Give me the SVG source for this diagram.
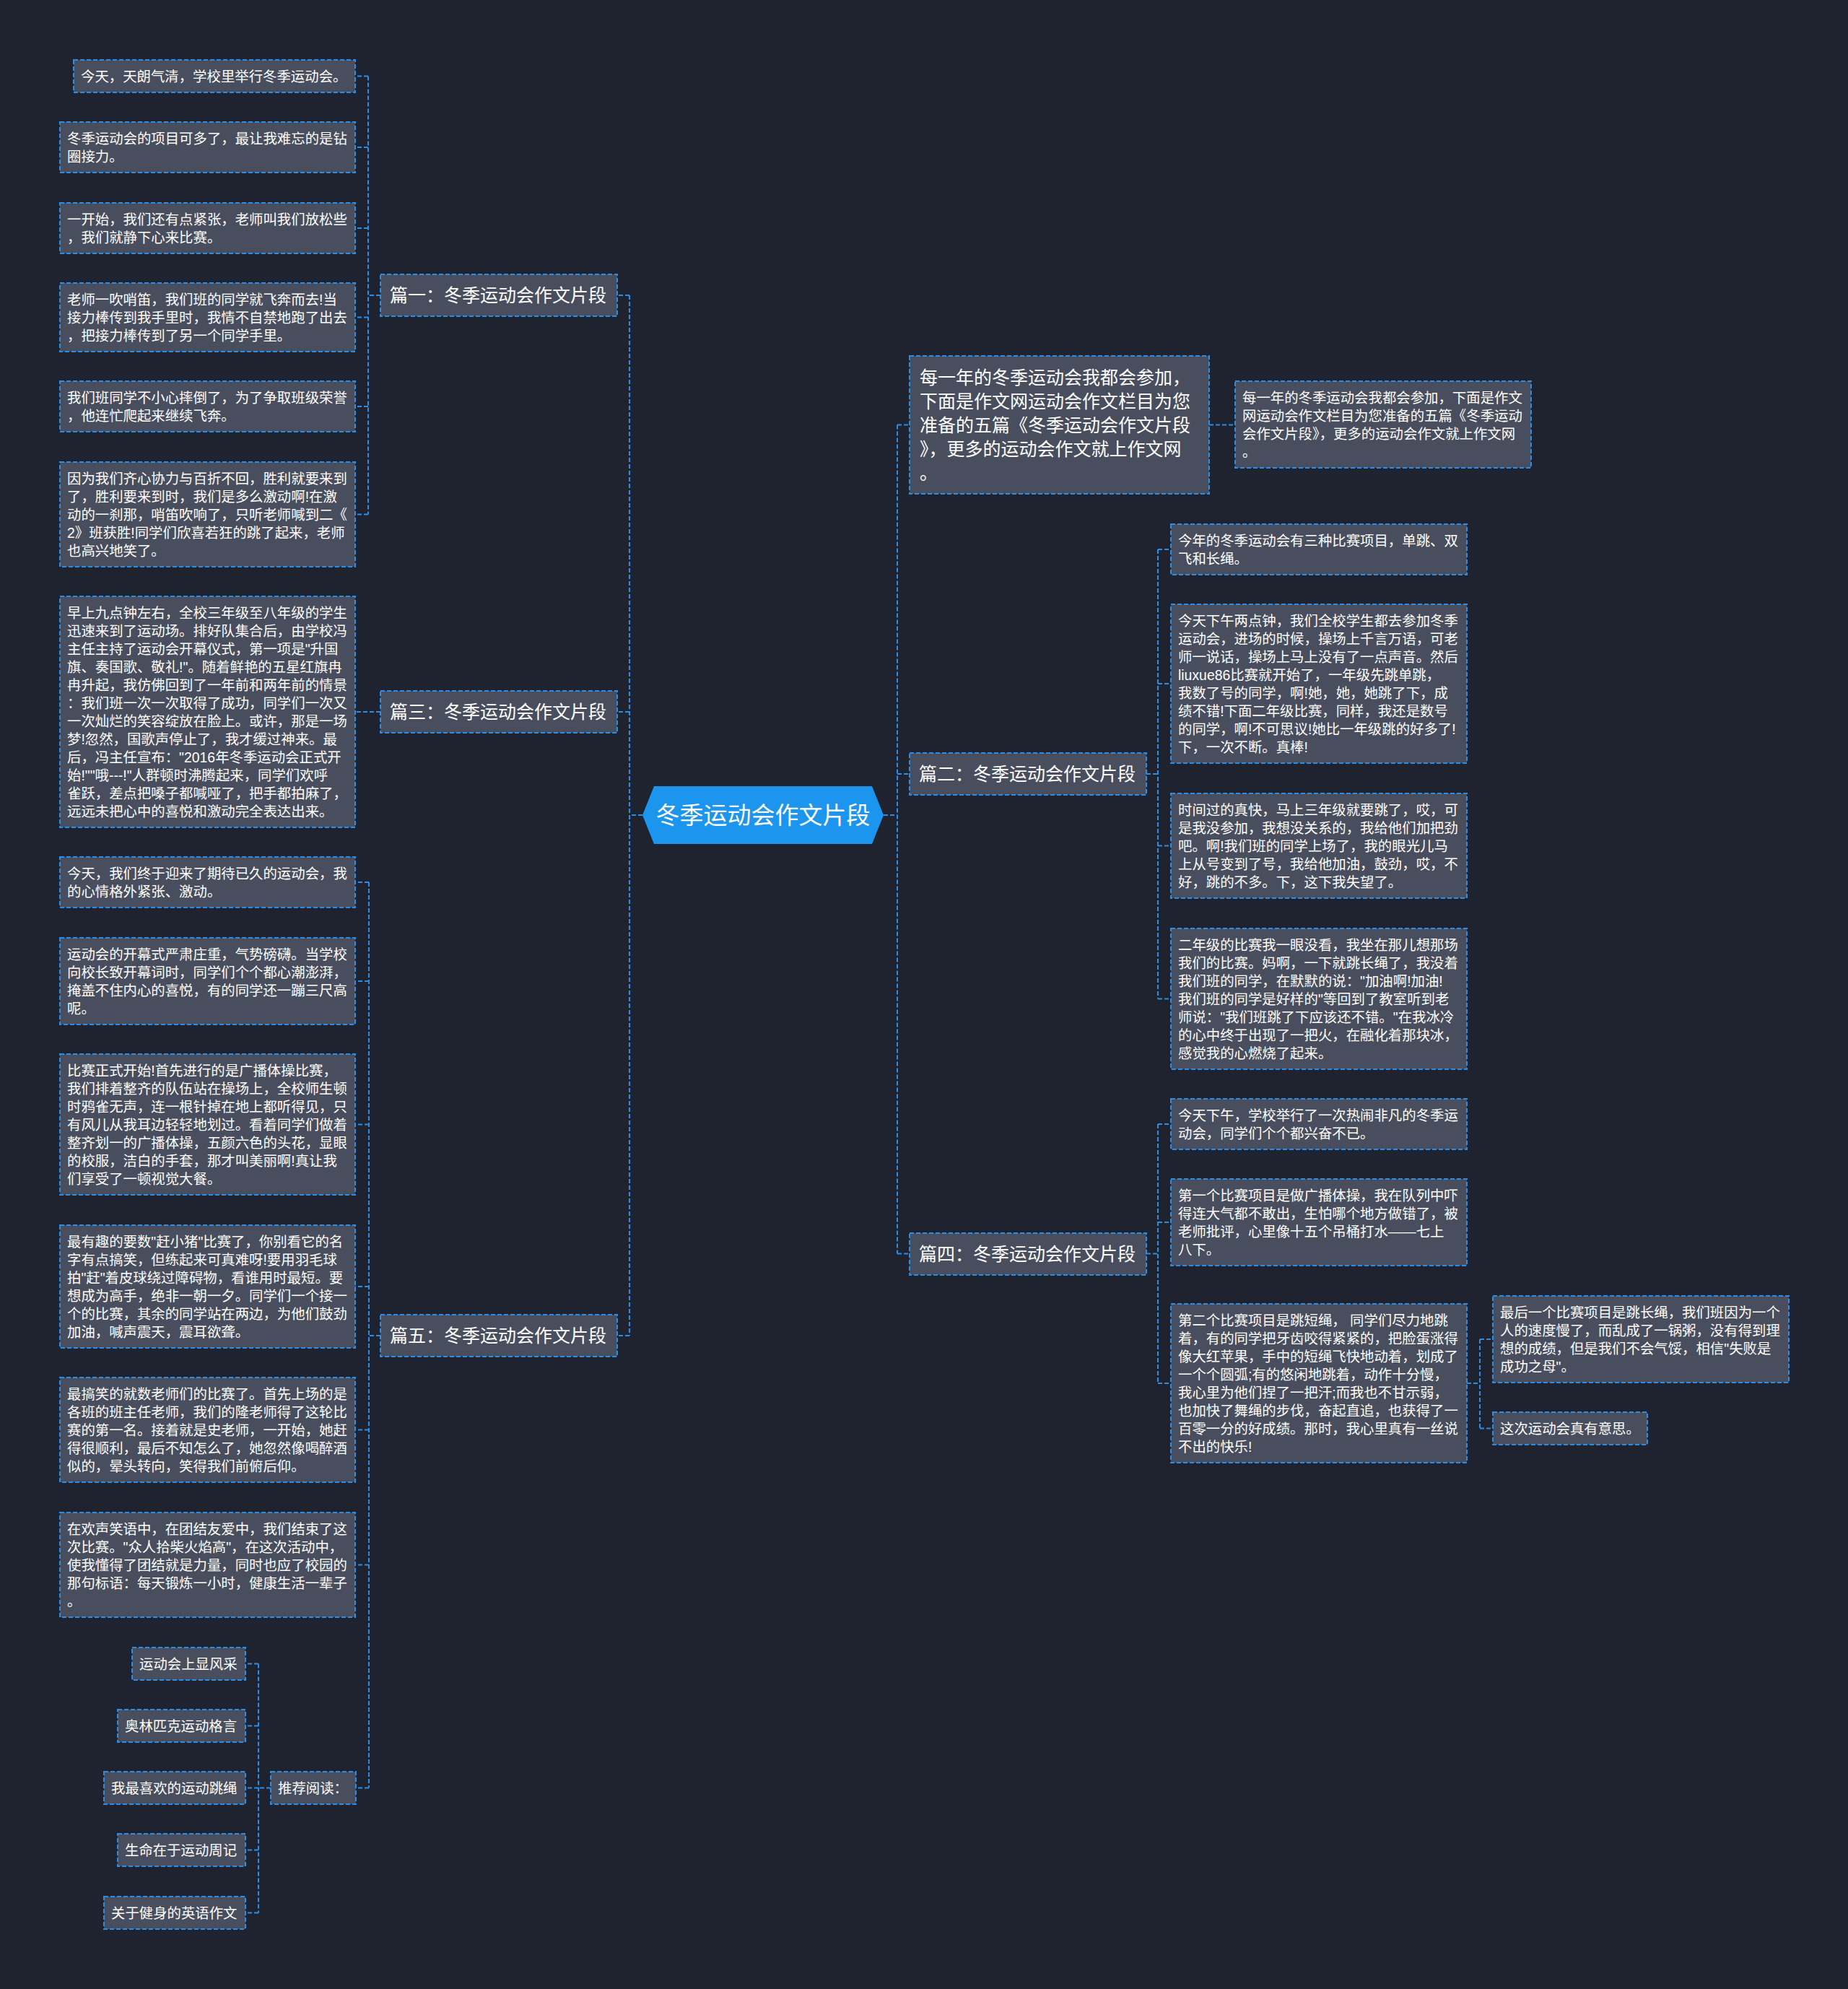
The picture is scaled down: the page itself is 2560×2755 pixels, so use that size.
<svg xmlns="http://www.w3.org/2000/svg" width="2560" height="2755" viewBox="0 0 2560 2755">
<style>
.n{fill:#484e5e;stroke:#2a8ee6;stroke-width:2;stroke-dasharray:6 3}
.t{fill:#ffffff;font-family:"Liberation Sans","Noto Sans CJK SC",sans-serif;font-size:19.4px;dominant-baseline:central}
.b{font-size:25px}
.c{fill:none;stroke:#2a8ee6;stroke-width:2;stroke-dasharray:6 3}
</style>
<rect width="2560" height="2755" fill="#1f2330"/>
<g id="connectors" class="c">
<path d="M890 1129H872M872 409V1850M872 409H855M872 986H855M872 1850H855"/>
<path d="M527 409H510M510 105.5V712.5M510 105.5H492M510 204H492M510 316H492M510 439.5H492M510 563H492M510 712.5H492"/>
<path d="M527 986H492"/>
<path d="M527 1850H511M511 1222V2476.5M511 1222H492M511 1359H492M511 1557.5H492M511 1782H492M511 1980.5H492M511 2167.5H492M511 2476.5H493"/>
<path d="M375 2476.5H358M358 2304.5V2649.5M358 2304.5H340M358 2390.5H340M358 2476.5H340M358 2562.5H340M358 2649.5H340"/>
<path d="M1224 1129H1243M1243 588.5V1736.5M1243 588.5H1260M1243 1072H1260M1243 1736.5H1260"/>
<path d="M1675 588.5H1711"/>
<path d="M1588 1072H1604M1604 761V1383.5M1604 761H1622M1604 947H1622M1604 1171.5H1622M1604 1383.5H1622"/>
<path d="M1588 1736.5H1604M1604 1557V1916M1604 1557H1622M1604 1693H1622M1604 1916H1622"/>
<path d="M2032 1916H2050M2050 1855V1978.5M2050 1855H2068M2050 1978.5H2068"/>
</g>
<g id="center">
<polygon points="890,1129 906,1089 1208,1089 1224,1129 1208,1169 906,1169" fill="#1b95ee"/>
<text class="t" x="1057" y="1129" text-anchor="middle" style="font-size:33px">冬季运动会作文片段</text>
</g>
<g id="p1"><rect class="n" x="527" y="380" width="328" height="58"/><text class="t b" x="540" y="409">篇一：冬季运动会作文片段</text></g>
<g id="p3"><rect class="n" x="527" y="957" width="328" height="58"/><text class="t b" x="540" y="986">篇三：冬季运动会作文片段</text></g>
<g id="p5"><rect class="n" x="527" y="1821" width="328" height="58"/><text class="t b" x="540" y="1850">篇五：冬季运动会作文片段</text></g>
<g id="p2"><rect class="n" x="1260" y="1043" width="328" height="58"/><text class="t b" x="1273" y="1072">篇二：冬季运动会作文片段</text></g>
<g id="p4"><rect class="n" x="1260" y="1708" width="328" height="58"/><text class="t b" x="1273" y="1737">篇四：冬季运动会作文片段</text></g>
<g id="b1"><rect class="n" x="102" y="83" width="390" height="45"/><text class="t" x="112" y="105.5">今天，天朗气清，学校里举行冬季运动会。</text></g>
<g id="b2"><rect class="n" x="83" y="169" width="409" height="70"/><text class="t"><tspan x="93" y="191.5">冬季运动会的项目可多了，最让我难忘的是钻</tspan><tspan x="93" y="216.5">圈接力。</tspan></text></g>
<g id="b3"><rect class="n" x="83" y="281" width="409" height="70"/><text class="t"><tspan x="93" y="303.5">一开始，我们还有点紧张，老师叫我们放松些</tspan><tspan x="93" y="328.5">，我们就静下心来比赛。</tspan></text></g>
<g id="b4"><rect class="n" x="83" y="392" width="409" height="95"/><text class="t"><tspan x="93" y="414.5">老师一吹哨笛，我们班的同学就飞奔而去!当</tspan><tspan x="93" y="439.5">接力棒传到我手里时，我情不自禁地跑了出去</tspan><tspan x="93" y="464.5">，把接力棒传到了另一个同学手里。</tspan></text></g>
<g id="b5"><rect class="n" x="83" y="528" width="409" height="70"/><text class="t"><tspan x="93" y="550.5">我们班同学不小心摔倒了，为了争取班级荣誉</tspan><tspan x="93" y="575.5">，他连忙爬起来继续飞奔。</tspan></text></g>
<g id="b6"><rect class="n" x="83" y="640" width="409" height="145"/><text class="t"><tspan x="93" y="662.5">因为我们齐心协力与百折不回，胜利就要来到</tspan><tspan x="93" y="687.5">了，胜利要来到时，我们是多么激动啊!在激</tspan><tspan x="93" y="712.5">动的一刹那，哨笛吹响了，只听老师喊到二《</tspan><tspan x="93" y="737.5">2》班获胜!同学们欣喜若狂的跳了起来，老师</tspan><tspan x="93" y="762.5">也高兴地笑了。</tspan></text></g>
<g id="t3"><rect class="n" x="83" y="826" width="409" height="320"/><text class="t"><tspan x="93" y="848.5">早上九点钟左右，全校三年级至八年级的学生</tspan><tspan x="93" y="873.5">迅速来到了运动场。排好队集合后，由学校冯</tspan><tspan x="93" y="898.5">主任主持了运动会开幕仪式，第一项是"升国</tspan><tspan x="93" y="923.5">旗、奏国歌、敬礼!"。随着鲜艳的五星红旗冉</tspan><tspan x="93" y="948.5">冉升起，我仿佛回到了一年前和两年前的情景</tspan><tspan x="93" y="973.5">：我们班一次一次取得了成功，同学们一次又</tspan><tspan x="93" y="998.5">一次灿烂的笑容绽放在脸上。或许，那是一场</tspan><tspan x="93" y="1023.5">梦!忽然，国歌声停止了，我才缓过神来。最</tspan><tspan x="93" y="1048.5">后，冯主任宣布："2016年冬季运动会正式开</tspan><tspan x="93" y="1073.5">始!""哦---!"人群顿时沸腾起来，同学们欢呼</tspan><tspan x="93" y="1098.5">雀跃，差点把嗓子都喊哑了，把手都拍麻了，</tspan><tspan x="93" y="1123.5">远远未把心中的喜悦和激动完全表达出来。</tspan></text></g>
<g id="c1"><rect class="n" x="83" y="1187" width="409" height="70"/><text class="t"><tspan x="93" y="1209.5">今天，我们终于迎来了期待已久的运动会，我</tspan><tspan x="93" y="1234.5">的心情格外紧张、激动。</tspan></text></g>
<g id="c2"><rect class="n" x="83" y="1299" width="409" height="120"/><text class="t"><tspan x="93" y="1321.5">运动会的开幕式严肃庄重，气势磅礴。当学校</tspan><tspan x="93" y="1346.5">向校长致开幕词时，同学们个个都心潮澎湃，</tspan><tspan x="93" y="1371.5">掩盖不住内心的喜悦，有的同学还一蹦三尺高</tspan><tspan x="93" y="1396.5">呢。</tspan></text></g>
<g id="c3"><rect class="n" x="83" y="1460" width="409" height="195"/><text class="t"><tspan x="93" y="1482.5">比赛正式开始!首先进行的是广播体操比赛，</tspan><tspan x="93" y="1507.5">我们排着整齐的队伍站在操场上，全校师生顿</tspan><tspan x="93" y="1532.5">时鸦雀无声，连一根针掉在地上都听得见，只</tspan><tspan x="93" y="1557.5">有风儿从我耳边轻轻地划过。看着同学们做着</tspan><tspan x="93" y="1582.5">整齐划一的广播体操，五颜六色的头花，显眼</tspan><tspan x="93" y="1607.5">的校服，洁白的手套，那才叫美丽啊!真让我</tspan><tspan x="93" y="1632.5">们享受了一顿视觉大餐。</tspan></text></g>
<g id="c4"><rect class="n" x="83" y="1697" width="409" height="170"/><text class="t"><tspan x="93" y="1719.5">最有趣的要数"赶小猪"比赛了，你别看它的名</tspan><tspan x="93" y="1744.5">字有点搞笑，但练起来可真难呀!要用羽毛球</tspan><tspan x="93" y="1769.5">拍"赶"着皮球绕过障碍物，看谁用时最短。要</tspan><tspan x="93" y="1794.5">想成为高手，绝非一朝一夕。同学们一个接一</tspan><tspan x="93" y="1819.5">个的比赛，其余的同学站在两边，为他们鼓劲</tspan><tspan x="93" y="1844.5">加油，喊声震天，震耳欲聋。</tspan></text></g>
<g id="c5"><rect class="n" x="83" y="1908" width="409" height="145"/><text class="t"><tspan x="93" y="1930.5">最搞笑的就数老师们的比赛了。首先上场的是</tspan><tspan x="93" y="1955.5">各班的班主任老师，我们的隆老师得了这轮比</tspan><tspan x="93" y="1980.5">赛的第一名。接着就是史老师，一开始，她赶</tspan><tspan x="93" y="2005.5">得很顺利，最后不知怎么了，她忽然像喝醉酒</tspan><tspan x="93" y="2030.5">似的，晕头转向，笑得我们前俯后仰。</tspan></text></g>
<g id="c6"><rect class="n" x="83" y="2095" width="409" height="145"/><text class="t"><tspan x="93" y="2117.5">在欢声笑语中，在团结友爱中，我们结束了这</tspan><tspan x="93" y="2142.5">次比赛。"众人拾柴火焰高"，在这次活动中，</tspan><tspan x="93" y="2167.5">使我懂得了团结就是力量，同时也应了校园的</tspan><tspan x="93" y="2192.5">那句标语：每天锻炼一小时，健康生活一辈子</tspan><tspan x="93" y="2217.5">。</tspan></text></g>
<g id="g0"><rect class="n" x="375" y="2454" width="118" height="45"/><text class="t" x="385" y="2476.5">推荐阅读：</text></g>
<g id="g1"><rect class="n" x="183" y="2282" width="157" height="45"/><text class="t" x="193" y="2304.5">运动会上显风采</text></g>
<g id="g2"><rect class="n" x="163" y="2368" width="177" height="45"/><text class="t" x="173" y="2390.5">奥林匹克运动格言</text></g>
<g id="g3"><rect class="n" x="144" y="2454" width="196" height="45"/><text class="t" x="154" y="2476.5">我最喜欢的运动跳绳</text></g>
<g id="g4"><rect class="n" x="163" y="2540" width="177" height="45"/><text class="t" x="173" y="2562.5">生命在于运动周记</text></g>
<g id="g5"><rect class="n" x="144" y="2627" width="196" height="45"/><text class="t" x="154" y="2649.5">关于健身的英语作文</text></g>
<g id="intro"><rect class="n" x="1260" y="493" width="415" height="191"/><text class="t b"><tspan x="1274" y="522.5">每一年的冬季运动会我都会参加，</tspan><tspan x="1274" y="555.5">下面是作文网运动会作文栏目为您</tspan><tspan x="1274" y="588.5">准备的五篇《冬季运动会作文片段</tspan><tspan x="1274" y="621.5">》，更多的运动会作文就上作文网</tspan><tspan x="1274" y="654.5">。</tspan></text></g>
<g id="intro-child"><rect class="n" x="1711" y="528" width="410" height="120"/><text class="t"><tspan x="1721" y="550.5">每一年的冬季运动会我都会参加，下面是作文</tspan><tspan x="1721" y="575.5">网运动会作文栏目为您准备的五篇《冬季运动</tspan><tspan x="1721" y="600.5">会作文片段》，更多的运动会作文就上作文网</tspan><tspan x="1721" y="625.5">。</tspan></text></g>
<g id="r1"><rect class="n" x="1622" y="726" width="410" height="70"/><text class="t"><tspan x="1632" y="748.5">今年的冬季运动会有三种比赛项目，单跳、双</tspan><tspan x="1632" y="773.5">飞和长绳。</tspan></text></g>
<g id="r2"><rect class="n" x="1622" y="837" width="410" height="220"/><text class="t"><tspan x="1632" y="859.5">今天下午两点钟，我们全校学生都去参加冬季</tspan><tspan x="1632" y="884.5">运动会，进场的时候，操场上千言万语，可老</tspan><tspan x="1632" y="909.5">师一说话，操场上马上没有了一点声音。然后</tspan><tspan x="1632" y="934.5">liuxue86比赛就开始了，一年级先跳单跳，</tspan><tspan x="1632" y="959.5">我数了号的同学，啊!她，她，她跳了下，成</tspan><tspan x="1632" y="984.5">绩不错!下面二年级比赛，同样，我还是数号</tspan><tspan x="1632" y="1009.5">的同学，啊!不可思议!她比一年级跳的好多了!</tspan><tspan x="1632" y="1034.5">下，一次不断。真棒!</tspan></text></g>
<g id="r3"><rect class="n" x="1622" y="1099" width="410" height="145"/><text class="t"><tspan x="1632" y="1121.5">时间过的真快，马上三年级就要跳了，哎，可</tspan><tspan x="1632" y="1146.5">是我没参加，我想没关系的，我给他们加把劲</tspan><tspan x="1632" y="1171.5">吧。啊!我们班的同学上场了，我的眼光儿马</tspan><tspan x="1632" y="1196.5">上从号变到了号，我给他加油，鼓劲，哎，不</tspan><tspan x="1632" y="1221.5">好，跳的不多。下，这下我失望了。</tspan></text></g>
<g id="r4"><rect class="n" x="1622" y="1286" width="410" height="195"/><text class="t"><tspan x="1632" y="1308.5">二年级的比赛我一眼没看，我坐在那儿想那场</tspan><tspan x="1632" y="1333.5">我们的比赛。妈啊，一下就跳长绳了，我没着</tspan><tspan x="1632" y="1358.5">我们班的同学，在默默的说："加油啊!加油!</tspan><tspan x="1632" y="1383.5">我们班的同学是好样的"等回到了教室听到老</tspan><tspan x="1632" y="1408.5">师说："我们班跳了下应该还不错。"在我冰冷</tspan><tspan x="1632" y="1433.5">的心中终于出现了一把火，在融化着那块冰，</tspan><tspan x="1632" y="1458.5">感觉我的心燃烧了起来。</tspan></text></g>
<g id="r5"><rect class="n" x="1622" y="1522" width="410" height="70"/><text class="t"><tspan x="1632" y="1544.5">今天下午，学校举行了一次热闹非凡的冬季运</tspan><tspan x="1632" y="1569.5">动会，同学们个个都兴奋不已。</tspan></text></g>
<g id="r6"><rect class="n" x="1622" y="1633" width="410" height="120"/><text class="t"><tspan x="1632" y="1655.5">第一个比赛项目是做广播体操，我在队列中吓</tspan><tspan x="1632" y="1680.5">得连大气都不敢出，生怕哪个地方做错了，被</tspan><tspan x="1632" y="1705.5">老师批评，心里像十五个吊桶打水——七上</tspan><tspan x="1632" y="1730.5">八下。</tspan></text></g>
<g id="r7"><rect class="n" x="1622" y="1806" width="410" height="220"/><text class="t"><tspan x="1632" y="1828.5">第二个比赛项目是跳短绳， 同学们尽力地跳</tspan><tspan x="1632" y="1853.5">着，有的同学把牙齿咬得紧紧的，把脸蛋涨得</tspan><tspan x="1632" y="1878.5">像大红苹果，手中的短绳飞快地动着，划成了</tspan><tspan x="1632" y="1903.5">一个个圆弧;有的悠闲地跳着，动作十分慢，</tspan><tspan x="1632" y="1928.5">我心里为他们捏了一把汗;而我也不甘示弱，</tspan><tspan x="1632" y="1953.5">也加快了舞绳的步伐，奋起直追，也获得了一</tspan><tspan x="1632" y="1978.5">百零一分的好成绩。那时，我心里真有一丝说</tspan><tspan x="1632" y="2003.5">不出的快乐!</tspan></text></g>
<g id="r8"><rect class="n" x="2068" y="1795" width="410" height="120"/><text class="t"><tspan x="2078" y="1817.5">最后一个比赛项目是跳长绳，我们班因为一个</tspan><tspan x="2078" y="1842.5">人的速度慢了，而乱成了一锅粥，没有得到理</tspan><tspan x="2078" y="1867.5">想的成绩，但是我们不会气馁，相信"失败是</tspan><tspan x="2078" y="1892.5">成功之母"。</tspan></text></g>
<g id="r9"><rect class="n" x="2068" y="1956" width="214" height="45"/><text class="t" x="2078" y="1978.5">这次运动会真有意思。</text></g>
</svg>
